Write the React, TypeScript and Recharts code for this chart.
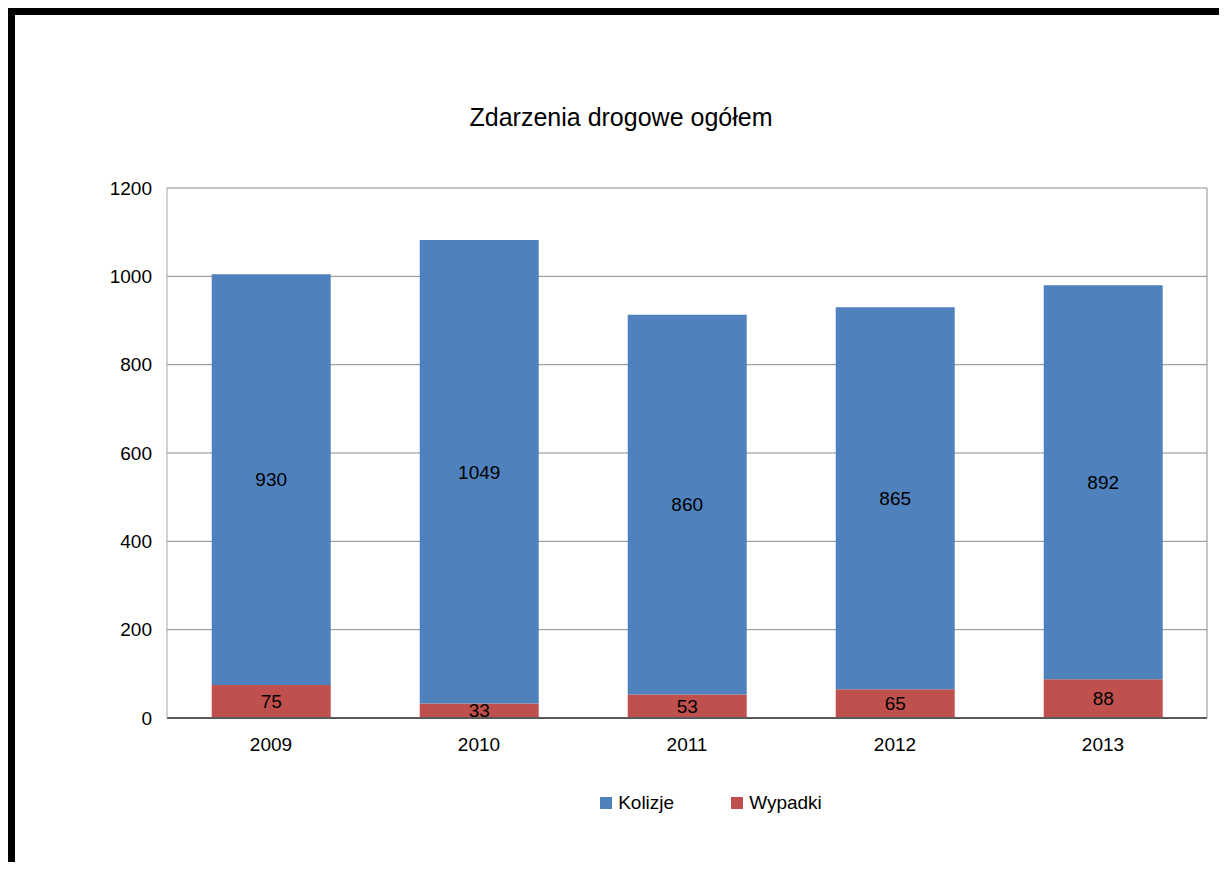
import React from 'react';
import {
  BarChart,
  Bar,
  XAxis,
  YAxis,
  CartesianGrid,
  Legend,
  LabelList,
} from 'recharts';

const years = ['2009', '2010', '2011', '2012', '2013'];
const kolizje = [930, 1049, 860, 865, 892];
const wypadki = [75, 33, 53, 65, 88];
const yTicks = [0, 200, 400, 600, 800, 1000, 1200];

const BLUE = '#4F81BD';
const RED = '#C0504D';

const data = years.map((year, i) => ({
  year,
  Kolizje: kolizje[i],
  Wypadki: wypadki[i],
}));

// legend shifted right like in the original excel chart
const LegendContent = ({ payload }: any) => {
  const items = [...(payload || [])].sort((a: any) =>
    a.value === 'Kolizje' ? -1 : 1
  );
  return (
    <div
      style={{
        display: 'flex',
        justifyContent: 'center',
        alignItems: 'center',
        height: 22,
        paddingLeft: 200,
        fontSize: 19,
        color: '#000',
      }}
    >
      {items.map((item: any, i: number) => (
        <div
          key={item.value}
          style={{ display: 'flex', alignItems: 'center', marginRight: i === 0 ? 57 : 0 }}
        >
          <span
            style={{
              display: 'inline-block',
              width: 12,
              height: 12,
              background: item.color,
              marginRight: 6,
            }}
          />
          <span>{item.value}</span>
        </div>
      ))}
    </div>
  );
};

export default function App() {
  return (
    <div
      style={{
        position: 'relative',
        width: 1219,
        height: 862,
        marginBottom: -8,
        boxSizing: 'border-box',
        borderTop: '7px solid #000',
        borderLeft: '7px solid #000',
        background: '#fff',
        fontFamily: '"Liberation Sans", Arial, sans-serif',
      }}
    >
      <style>{'html, body { overflow: hidden; }'}</style>
      <div
        style={{
          position: 'absolute',
          top: 88,
          left: 0,
          width: 1212,
          textAlign: 'center',
          fontSize: 25,
          color: '#000',
        }}
      >
        Zdarzenia drogowe ogółem
      </div>
      <BarChart
        width={1196}
        height={839}
        data={data}
        margin={{ top: 173, right: 4, left: 0, bottom: 40 }}
        barCategoryGap="21.5%"
      >
        <CartesianGrid
          stroke="#8c8c8c"
          verticalCoordinatesGenerator={({ offset }: any) => [offset.left + offset.width]}
        />
        <XAxis
          dataKey="year"
          height={74}
          tickLine={false}
          tickSize={0}
          tickMargin={20}
          axisLine={{ stroke: '#5a5a5a', strokeWidth: 2 }}
          tick={{ fill: '#000', fontSize: 19 }}
        />
        <YAxis
          width={152}
          domain={[0, 1200]}
          ticks={yTicks}
          tickLine={false}
          tickSize={0}
          tickMargin={15}
          axisLine={{ stroke: '#a6a6a6' }}
          tick={{ fill: '#000', fontSize: 19 }}
        />
        <Legend verticalAlign="bottom" content={<LegendContent />} />
        <Bar dataKey="Wypadki" stackId="a" fill={RED} isAnimationActive={false}>
          <LabelList dataKey="Wypadki" position="center" fill="#000" fontSize={19} />
        </Bar>
        <Bar dataKey="Kolizje" stackId="a" fill={BLUE} isAnimationActive={false}>
          <LabelList dataKey="Kolizje" position="center" fill="#000" fontSize={19} />
        </Bar>
      </BarChart>
    </div>
  );
}
